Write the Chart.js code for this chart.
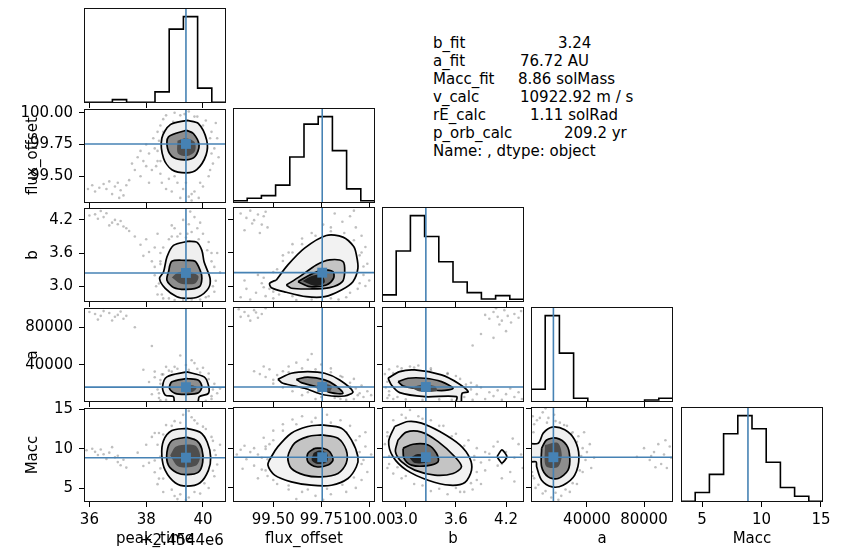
<!DOCTYPE html>
<html>
<head>
<meta charset="utf-8">
<script src="https://cdn.jsdelivr.net/npm/chart.js@4.4.1/dist/chart.umd.min.js"></script>
<style>
  body { margin: 0; width: 851px; height: 549px; background: #fff; position: relative; overflow: hidden;
         font-family: "DejaVu Sans", sans-serif; }
  canvas { position: absolute; }
  .txt { position: absolute; font-size: 15px; color: #000; white-space: pre; line-height: 18px; }
  .ytitle { transform: translate(-50%, -50%) rotate(-90deg); }
  .xtitle { transform: translate(-50%, -50%); }
</style>
</head>
<body>
<script>
// parameter axes
var labels = ['peak_time', 'flux_offset', 'b', 'a', 'Macc'];
var axisMin = [35.81, 99.29, 2.715, 800, 3.23];
var axisMax = [40.81, 100.03, 4.415, 100300, 15.17];
var tickVals = [[36, 38, 40], [99.5, 99.75, 100], [3.0, 3.6, 4.2], [40000, 80000], [5, 10, 15]];
var tickText = [['36', '38', '40'], ['99.50', '99.75', '100.00'], ['3.0', '3.6', '4.2'], ['40000', '80000'], ['5', '10', '15']];
var truths = [39.40, 99.755, 3.24, 16497, 8.86];

// 1d histograms, 10 bins over each range
var histPeak = [6, 6, 33, 6, 7, 110, 730, 853, 147, 7];
var histFlux = [23, 47, 73, 177, 457, 783, 857, 520, 140, 23];
var histB = [70, 503, 853, 647, 397, 197, 93, 30, 63, 27];
var histA = [127, 860, 487, 37, 3, 3, 3, 3, 20, 37];
var histMacc = [7, 94, 274, 677, 857, 727, 394, 144, 57, 7];

// fit summary
var statNames = ['b_fit', 'a_fit', 'Macc_fit', 'v_calc', 'rE_calc', 'p_orb_calc'];
var statValues = ['3.24', '76.72 AU', '8.86 solMass', '10922.92 m / s', '1.11 solRad', '209.2 yr'];
var statFooter = 'Name: , dtype: object';

// samples outside the contours, per pair [x, y]
var dotsFluxPeak = [[35.95,99.40],[36.1,99.43],[36.2,99.38],[36.35,99.41],[36.5,99.44],[36.6,99.40],[36.8,99.36],[36.9,99.42],[37.0,99.45],[37.1,99.39],[37.2,99.35],[37.05,99.33],[37.3,99.43],[36.7,99.46],[37.4,99.47],
  [37.6,99.55],[37.8,99.50],[37.9,99.62],[38.0,99.58],[38.1,99.68],[38.2,99.55],[38.3,99.72],[38.25,99.80],[37.7,99.65],[38.4,99.62],[38.0,99.75],[37.5,99.60],
  [38.5,99.90],[38.6,99.95],[38.7,99.98],[39.0,100.0],[39.2,99.98],[39.5,100.01],[39.8,99.97],[40.1,99.94],[40.3,99.85],[40.4,99.72],[40.35,99.60],[40.2,99.50],[40.0,99.42],[39.7,99.38],[39.5,99.34],[39.3,99.40],[39.1,99.45],[38.8,99.48],[38.5,99.52],[38.4,99.70],[39.6,99.31],[39.4,99.45],[40.5,99.80],[38.6,99.85],
  [38.45,99.78],[38.5,99.62],[38.55,99.45],[38.7,99.40],[38.9,99.38],[39.2,99.33],[39.6,99.36],[39.9,99.45],[40.25,99.55],[40.3,99.68],[40.25,99.80],[40.0,99.90],[39.7,99.97],[39.35,99.99],[38.95,99.93],[38.75,99.88],[38.4,99.85],[37.8,99.70],[38.1,99.45],[39.0,99.50],[40.45,99.92],[40.55,99.65],[39.85,99.33],[38.35,99.58]];
var dotsBPeak = [[36.0,4.28],[36.2,4.30],[36.3,4.22],[36.5,4.25],[36.6,4.32],[36.8,4.15],[36.9,4.20],[37.0,4.12],[37.1,4.18],[37.2,4.08],[36.4,4.36],[37.3,4.05],[36.7,4.10],[37.4,4.00],
  [37.6,3.90],[37.8,3.75],[38.0,3.85],[38.1,3.62],[38.3,3.70],[38.2,3.45],[37.9,3.55],[38.4,3.95],[38.5,3.40],
  [39.0,4.05],[39.3,4.20],[39.5,4.12],[39.7,4.25],[39.2,3.95],[39.6,3.98],[39.9,4.15],[38.9,3.90],[39.4,3.88],[40.0,3.95],
  [38.3,3.20],[38.35,3.00],[38.4,2.85],[38.6,2.78],[39.0,2.75],[39.6,2.76],[40.1,2.80],[40.4,2.90],[40.45,3.10],[40.4,3.35],[40.3,3.60],[40.2,3.80],[40.6,3.25],[38.5,3.60],
  [38.45,3.05],[38.5,3.45],[38.6,3.70],[38.8,3.85],[39.1,3.90],[39.45,3.95],[39.85,3.85],[40.15,3.65],[40.3,3.45],[40.35,3.00],[40.2,2.82],[39.9,2.76],[39.3,2.75],[38.8,2.78],[38.55,2.85],[38.3,3.35],[38.9,4.10],[39.55,4.35],[39.8,4.05],[40.5,3.60]];
var dotsAPeak = [[36.0,96000],[36.2,94000],[36.4,92000],[36.5,97000],[36.7,95000],[36.9,91000],[37.0,93000],[37.2,89000],[36.3,88000],[37.1,96500],[36.8,87000],[37.3,92000],
  [37.6,80000],[38.2,60000],[37.9,35000],[38.1,22000],[38.3,27000],[38.4,14000],[38.5,20000],[38.2,9000],[38.45,5000],[38.6,30000],[39.0,38000],[39.4,40000],[39.8,36000],[40.2,31000],[40.4,20000],[40.5,10000],[40.3,4000],[39.6,45000],[39.2,50000],[38.9,33000],[40.0,37000],[40.6,15000],[38.7,3000],
  [38.5,24000],[38.55,30000],[38.8,34000],[39.1,36000],[39.5,35000],[39.9,32000],[40.2,25000],[40.35,14000],[40.3,7000],[38.45,10000],[38.5,2500],[39.0,3000],[40.1,2000],[38.7,38000],[39.7,42000],[38.3,33000]];
var dotsMaccPeak = [[35.9,9.8],[36.1,10.0],[36.2,9.6],[36.4,9.9],[36.5,9.3],[36.7,9.5],[36.9,8.9],[37.0,8.3],[37.1,7.9],[37.2,8.6],[37.3,7.6],[36.8,10.2],[36.3,9.2],[37.0,9.1],[36.6,8.7],
  [37.7,9.5],[38.0,10.5],[38.1,8.2],[38.2,11.5],[38.3,7.0],[37.9,7.8],[38.3,12.0],[38.4,5.5],
  [38.7,13.0],[39.0,13.5],[39.3,14.3],[39.5,14.8],[39.7,13.6],[40.0,12.8],[40.3,11.5],[40.4,9.8],[40.5,8.0],[40.4,6.5],[40.2,5.0],[39.9,4.3],[39.5,3.8],[39.2,4.2],[38.9,4.8],[38.6,6.2],[38.5,9.0],[40.6,10.5],[39.4,3.5],[38.4,10.5],
  [38.45,12.0],[38.5,7.5],[38.45,6.2],[38.6,4.5],[39.0,4.0],[39.7,4.5],[40.05,5.6],[40.35,7.2],[40.45,9.2],[40.35,11.0],[40.1,12.5],[39.8,13.2],[39.2,13.3],[38.9,12.9],[38.6,11.8],[39.6,14.0],[38.3,8.5],[39.1,3.6]];
var dotsBFlux = [[99.33,4.30],[99.36,4.22],[99.38,4.35],[99.40,4.18],[99.42,4.28],[99.44,4.10],[99.45,4.25],[99.47,4.05],[99.39,4.12],[99.35,4.00],[99.46,4.33],[99.43,3.95],
  [99.33,2.80],[99.36,2.95],[99.38,2.76],[99.41,2.88],[99.44,3.05],[99.46,2.82],[99.48,2.95],[99.35,3.10],[99.50,2.78],[99.42,3.20],[99.52,3.30],[99.55,3.45],[99.58,3.60],[99.60,3.75],[99.53,2.85],
  [99.82,4.30],[99.86,4.15],[99.90,4.25],[99.93,4.05],[99.96,3.90],[99.98,3.70],[99.95,3.55],[99.99,3.40],[99.97,3.20],[99.94,2.95],[99.88,2.80],[99.80,4.05],[99.76,4.10],[99.70,3.95],[99.65,3.85],[99.84,2.76],[100.0,3.10],[99.92,4.35],
  [99.45,3.15],[99.50,3.25],[99.55,3.55],[99.60,3.60],[99.65,3.75],[99.72,3.90],[99.80,3.98],[99.87,3.95],[99.92,3.82],[99.96,3.60],[99.97,3.35],[99.95,3.05],[99.90,2.88],[99.80,2.78],[99.70,2.76],[99.60,2.82],[99.50,2.90],[99.45,2.98],[99.62,2.75],[99.98,3.00]];
var dotsAFlux = [[99.32,98000],[99.35,95000],[99.37,91000],[99.40,97000],[99.42,89000],[99.44,93000],[99.46,99000],[99.38,86000],[99.33,90000],[99.41,94500],
  [99.40,33000],[99.43,30000],[99.46,27000],[99.48,35000],[99.50,24000],[99.52,29000],[99.45,38000],[99.55,33000],[99.58,38000],[99.62,42000],[99.68,45000],[99.75,40000],[99.80,36000],[99.70,51000],[99.85,28000],
  [99.90,21000],[99.93,15000],[99.95,10000],[99.97,6000],[99.99,12000],[99.92,4000],[100.01,8000],[99.88,3000],[99.96,18000],[99.82,5000],
  [99.60,12000],[99.55,16000],[99.65,8000],[99.72,4000],
  [99.50,20000],[99.53,25000],[99.58,32000],[99.65,36000],[99.72,35000],[99.80,32000],[99.86,27000],[99.90,17000],[99.94,8000],[99.85,4000],[99.75,6000],[99.68,11000],[99.60,17000],[99.55,22000],[99.78,28000],[99.92,25000]];
var dotsMaccFlux = [[99.33,9.8],[99.35,10.3],[99.38,9.5],[99.40,10.0],[99.42,9.2],[99.44,8.8],[99.46,9.9],[99.36,8.6],[99.31,9.2],[99.48,10.5],[99.45,11.3],[99.50,12.2],[99.55,13.0],[99.60,13.6],[99.65,14.0],[99.72,13.8],[99.78,14.2],[99.85,13.5],[99.90,12.8],[99.95,11.5],[99.98,10.2],[99.97,8.5],[99.99,7.0],[99.96,6.0],[99.93,5.0],[99.88,4.5],[99.80,4.2],[99.72,4.0],[99.65,4.5],[99.58,4.8],[99.52,5.5],[99.47,6.5],[99.44,7.3],[99.40,7.8],[99.34,7.4],[99.62,3.6],[99.76,3.5],[100.01,9.2],
  [99.47,8.6],[99.46,10.2],[99.50,11.0],[99.55,12.2],[99.62,13.0],[99.70,13.3],[99.80,13.2],[99.88,12.0],[99.93,11.0],[99.95,9.5],[99.96,8.0],[99.92,6.3],[99.86,5.4],[99.78,4.9],[99.68,4.8],[99.58,5.3],[99.50,6.0],[99.46,7.2],[99.42,6.2],[99.98,12.0]];
var dotsAB = [[3.95,92000],[4.00,88000],[4.05,95000],[4.10,90000],[4.15,86000],[4.18,97000],[4.22,91000],[4.26,84000],[4.30,93000],[4.35,89000],[4.12,82000],[4.38,96000],[4.08,99000],
  [3.90,72000],[4.05,68000],[4.20,75000],[3.80,60000],
  [2.75,30000],[2.78,22000],[2.80,35000],[2.85,27000],[2.90,38000],[2.95,33000],[3.05,38000],[3.15,39000],[3.30,36000],[3.50,31000],[3.60,28000],
  [3.78,14000],[3.85,9000],[3.90,16000],[3.95,4000],[4.00,11000],[4.05,7000],[4.10,13000],[4.15,3000],[4.20,9000],[4.25,15000],[4.30,6000],[4.35,11000],[4.39,4000],[3.80,3000],[3.72,19000],
  [2.80,8000],[2.85,4000],
  [2.76,16000],[2.80,12000],[2.90,6000],[3.0,3500],[3.2,3000],[3.4,3500],[3.55,3000],[3.70,6000],[3.78,21000],[3.65,25000],[3.50,30000],[3.30,34000],[3.10,37000],[2.95,36000],[2.85,31000],[3.60,14000],[3.85,18000],[2.78,5000]];
var dotsMaccB = [[2.75,10.5],[2.78,12.0],[2.80,9.0],[2.78,7.5],[2.85,13.5],[2.95,14.2],[3.05,14.8],[3.15,14.0],[3.30,13.5],[3.45,12.8],[3.60,11.8],[3.75,11.0],[3.85,10.0],[3.95,9.5],[4.05,10.2],[4.20,9.5],[4.30,8.8],[4.35,10.5],[4.40,7.5],[4.25,7.0],[4.10,7.8],[3.95,7.2],[3.85,6.0],[3.80,4.8],[3.90,5.5],[4.15,6.2],[4.30,5.8],[3.70,4.5],[3.50,4.2],[3.30,4.6],[3.10,5.5],[2.95,6.2],[2.85,6.8],[4.00,8.5],[3.82,9.0],[4.38,9.2],[4.28,11.2],
  [2.78,11.5],[2.80,8.0],[2.85,9.8],[2.90,12.5],[3.0,13.8],[3.2,13.7],[3.4,12.8],[3.55,11.5],[3.7,10.3],[3.82,8.5],[3.85,7.0],[3.78,5.6],[3.60,5.0],[3.40,4.9],[3.20,5.3],[3.00,6.5],[2.90,7.6],[3.9,8.2],[4.0,9.3],[4.15,8.0],[4.1,10.8],[3.65,4.5]];
var dotsMaccA = [[75000,8.9],[80000,10.0],[84000,8.5],[87000,9.5],[90000,10.5],[92000,8.0],[94000,9.2],[96000,7.5],[98000,10.2],[99000,8.8],[88000,7.6],[95000,11.0],[85000,9.0],
  [2000,14.0],[5000,13.5],[9000,14.5],[13000,13.8],[17000,14.2],[21000,13.2],[26000,12.8],[30000,12.0],[34000,11.5],[37000,10.0],[39000,8.5],[37000,7.0],[33000,5.5],[28000,4.5],[22000,4.0],[15000,3.8],[9000,4.3],[4000,5.0],[2000,6.5],[40000,9.5],[45000,8.8],[20000,3.5],[11000,15.0],[2500,12.0],[2000,9.0],
  [3000,13.0],[7000,13.8],[12000,13.2],[18000,13.4],[24000,12.9],[29000,11.8],[33000,10.8],[36000,9.0],[35000,7.2],[30000,5.6],[25000,4.8],[18000,4.4],[11000,4.6],[6000,5.4],[3000,6.2],[1500,7.0],[1500,10.0],[42000,10.5],[38000,12.0],[43000,7.5]];

// density contours, outermost level first
var ringsFluxPeak = [
  [[39.43,99.94],[38.85,99.907],[38.55,99.80],[38.61,99.643],[38.905,99.552],[39.41,99.527],[39.78,99.552],[40.11,99.669],[40.13,99.785],[39.84,99.915]],
  [[39.41,99.863],[38.785,99.811],[38.75,99.721],[38.96,99.648],[39.41,99.63],[39.72,99.656],[39.862,99.746],[39.66,99.837]]];
var coreFluxPeak = [[39.1,99.78],[39.4,99.80],[39.7,99.77],[39.72,99.70],[39.45,99.66],[39.12,99.68]];
var ringsBPeak = [
  [[39.49,3.815],[38.96,3.738],[38.73,3.528],[38.61,3.259],[38.47,3.14],[38.67,2.961],[39.08,2.81],[39.43,2.781],[39.84,2.81],[40.19,2.961],[40.25,3.14],[40.04,3.438],[39.96,3.648],[39.78,3.797]],
  [[39.43,3.469],[38.905,3.451],[38.785,3.259],[38.73,3.11],[38.96,2.979],[39.43,2.943],[39.87,2.99],[39.96,3.14],[39.90,3.289],[39.72,3.451]]];
var coreBPeak = [[38.905,3.158],[39.13,3.253],[39.55,3.259],[39.84,3.181],[39.72,3.051],[39.2,3.051]];
var ringsAPeak = [
  [[39.43,32635],[38.73,27380],[38.575,16875],[38.67,8150],[38.96,6370],[39.02,-1300],[39.79,-1300],[39.87,6370],[40.19,9940],[40.19,18660],[40.04,27380]],
  [[39.43,25700],[38.905,22130],[38.82,15190],[39.02,9940],[39.43,8890],[39.84,10570],[39.96,16870],[39.84,23920]]];
var coreAPeak = [[39.255,15510],[39.48,18660],[39.78,16560],[39.65,11620],[39.30,11620]];
var ringsMaccPeak = [
  [[39.43,12.59],[38.905,12.30],[38.61,11.03],[38.55,9.14],[38.67,7.24],[39.02,5.68],[39.43,5.25],[39.90,5.68],[40.19,7.24],[40.27,8.92],[40.15,10.82],[39.90,12.08]],
  [[39.43,11.45],[38.905,11.03],[38.73,9.55],[38.785,7.87],[39.08,6.95],[39.43,6.70],[39.84,7.02],[39.99,8.29],[39.96,9.98],[39.78,11.03]]];
var coreMaccPeak = [[38.845,9.14],[39.055,10.28],[39.72,10.40],[39.90,9.14],[39.76,7.87],[39.13,7.75]];
var ringsBFlux = [
  [[99.516,3.11],[99.576,3.379],[99.663,3.679],[99.776,3.905],[99.863,3.876],[99.919,3.708],[99.933,3.559],[99.941,3.32],[99.915,3.079],[99.855,2.93],[99.768,2.81],[99.672,2.81],[99.568,2.889],[99.49,2.972],[99.481,3.051]],
  [[99.568,3.02],[99.637,3.169],[99.724,3.379],[99.794,3.469],[99.863,3.438],[99.872,3.259],[99.86,3.079],[99.794,2.972],[99.69,2.948],[99.594,2.961]],
  [[99.629,3.079],[99.69,3.20],[99.759,3.289],[99.811,3.259],[99.814,3.14],[99.776,3.02],[99.69,2.99]]];
var coreBFlux = [[99.653,3.09],[99.70,3.18],[99.752,3.20],[99.768,3.07],[99.72,3.0]];
var ringsAFlux = [
  [[99.524,24650],[99.594,30950],[99.68,32630],[99.768,30950],[99.846,23920],[99.915,11620],[99.872,7100],[99.768,8150],[99.663,15190],[99.55,20450]],
  [[99.62,24650],[99.68,26750],[99.768,23920],[99.82,18660],[99.863,9940],[99.80,10570],[99.733,16240],[99.646,21080]]];
var coreAFlux = [[99.716,16560],[99.752,20240],[99.804,17610],[99.794,11830],[99.742,13410]];
var ringsMaccFlux = [
  [[99.75,12.93],[99.68,12.72],[99.594,11.88],[99.524,10.19],[99.49,8.92],[99.472,7.87],[99.507,6.61],[99.594,5.76],[99.698,5.34],[99.803,5.34],[99.889,6.19],[99.933,7.66],[99.941,8.92],[99.907,11.03],[99.855,12.51]],
  [[99.75,11.67],[99.68,11.45],[99.611,10.62],[99.576,8.92],[99.594,7.45],[99.663,6.61],[99.75,6.39],[99.837,6.82],[99.88,8.09],[99.88,9.77],[99.837,11.25]],
  [[99.716,9.98],[99.68,9.35],[99.68,8.29],[99.724,7.66],[99.785,7.87],[99.811,8.50],[99.794,9.55],[99.759,9.98]]];
var coreMaccFlux = [[99.71,9.4],[99.74,9.7],[99.78,9.3],[99.78,8.3],[99.73,8.0],[99.70,8.5]];
var ringsAB = [
  [[2.787,25700],[2.927,32630],[3.107,34420],[3.427,29170],[3.626,20450],[3.746,11620],[3.674,9940],[3.659,-1300],[3.599,-1300],[3.607,6370],[3.227,6370],[2.927,10570],[2.828,18660]],
  [[2.907,22130],[3.027,25700],[3.227,25700],[3.427,22130],[3.566,15190],[3.427,12670],[3.107,15190],[2.967,17610]]];
var coreAB = [[3.071,15510],[3.167,18660],[3.347,17610],[3.371,12360],[3.167,11830]];
var ringsMaccB = [
  [[2.867,12.72],[3.027,13.35],[3.187,13.15],[3.407,12.08],[3.647,10.40],[3.767,8.72],[3.787,7.24],[3.707,5.68],[3.527,5.34],[3.267,5.97],[3.008,7.24],[2.847,8.92],[2.795,10.82]],
  [[2.907,11.03],[3.007,12.01],[3.187,12.01],[3.387,10.82],[3.587,8.92],[3.667,7.66],[3.566,6.82],[3.347,6.61],[3.107,7.24],[2.948,8.29],[2.876,9.55]],
  [[2.967,9.98],[3.087,10.49],[3.267,10.40],[3.367,9.35],[3.387,8.29],[3.247,7.78],[3.068,7.87],[2.979,8.72]]];
var coreMaccB = [[3.047,8.76],[3.143,9.26],[3.263,9.01],[3.263,8.25],[3.107,8.12]];
var islandMaccB = [[4.091,8.92],[4.151,9.77],[4.211,8.92],[4.151,8.12]];
var ringsMaccA = [
  [[-3375,10.62],[5880,10.62],[9360,11.88],[15620,12.64],[24460,12.30],[31420,11.03],[34410,8.92],[31420,6.61],[23270,5.34],[15620,5.13],[8240,5.97],[4770,7.66],[4280,8.29],[-3375,8.29]],
  [[8240,9.98],[11720,11.03],[18680,11.25],[25640,10.40],[27940,8.92],[26750,7.24],[19800,6.19],[12840,6.39],[8240,7.66]]];
var coreMaccA = [[10540,10.40],[19590,10.66],[22370,9.14],[19590,7.62],[11240,7.75]];

var hists = [histPeak, histFlux, histB, histA, histMacc];
var pairs = [
  {r: 1, c: 0, dots: dotsFluxPeak, rings: ringsFluxPeak, core: coreFluxPeak},
  {r: 2, c: 0, dots: dotsBPeak, rings: ringsBPeak, core: coreBPeak},
  {r: 3, c: 0, dots: dotsAPeak, rings: ringsAPeak, core: coreAPeak},
  {r: 4, c: 0, dots: dotsMaccPeak, rings: ringsMaccPeak, core: coreMaccPeak},
  {r: 2, c: 1, dots: dotsBFlux, rings: ringsBFlux, core: coreBFlux},
  {r: 3, c: 1, dots: dotsAFlux, rings: ringsAFlux, core: coreAFlux},
  {r: 4, c: 1, dots: dotsMaccFlux, rings: ringsMaccFlux, core: coreMaccFlux},
  {r: 3, c: 2, dots: dotsAB, rings: ringsAB, core: coreAB},
  {r: 4, c: 2, dots: dotsMaccB, rings: ringsMaccB, core: coreMaccB, island: islandMaccB},
  {r: 4, c: 3, dots: dotsMaccA, rings: ringsMaccA, core: coreMaccA}
];

// grid geometry
var colX = [84, 233, 382, 531, 681];
var rowY = [8, 108, 207, 307, 407];
var PW = 142, PH = 95;
var PADL = 70, PADR = 40, PADT = 14, PADB = 30;
var BLUE = '#4682b4';
var tickFont = {family: 'DejaVu Sans', size: 15};
var shades = {2: ['#efefef', '#8e8e8e', '#4e4e4e'], 3: ['#f2f2f2', '#c4c4c4', '#707070', '#1e1e1e']};

var frame = {
  id: 'frame',
  afterDraw: function (chart) {
    var a = chart.chartArea, ctx = chart.ctx;
    ctx.save();
    ctx.strokeStyle = '#111';
    ctx.lineWidth = 1;
    ctx.strokeRect(Math.round(a.left) + 0.5, Math.round(a.top) + 0.5, Math.round(a.right - a.left) - 1, Math.round(a.bottom - a.top) - 1);
    ctx.restore();
  }
};

function xy(arr) {
  return arr.map(function (p) { return {x: p[0], y: p[1]}; });
}

function closed(arr) {
  return xy(arr.concat([arr[0]]));
}

function makePanel(r, c, datasets, hist) {
  var w = PW + PADL + PADR, h = PH + PADT + PADB;
  var cv = document.createElement('canvas');
  cv.width = w; cv.height = h;
  cv.style.left = (colX[c] - PADL) + 'px';
  cv.style.top = (rowY[r] - PADT) + 'px';
  document.body.appendChild(cv);

  var yMin = hist ? 0 : axisMin[r];
  var yMax = hist ? 1.1 * Math.max.apply(null, hists[c]) : axisMax[r];

  new Chart(cv, {
    type: 'scatter',
    data: {datasets: datasets},
    options: {
      responsive: false,
      animation: false,
      events: [],
      layout: {padding: {left: 0, right: PADR, top: PADT, bottom: 0}},
      plugins: {legend: {display: false}, tooltip: {enabled: false}},
      scales: {
        x: {
          type: 'linear', bounds: 'data', min: axisMin[c], max: axisMax[c],
          afterBuildTicks: function (s) { s.ticks = tickVals[c].map(function (v) { return {value: v}; }); },
          afterFit: function (s) { s.height = PADB; },
          ticks: {display: r === 4, autoSkip: false, maxRotation: 0, padding: 4, color: '#000', font: tickFont,
                  callback: function (v, i) { return tickText[c][i]; }},
          grid: {drawOnChartArea: false, tickLength: 5, color: '#000', lineWidth: 1},
          border: {display: false}
        },
        y: {
          type: 'linear', bounds: 'data', min: yMin, max: yMax,
          afterBuildTicks: function (s) { s.ticks = hist ? [] : tickVals[r].map(function (v) { return {value: v}; }); },
          afterFit: function (s) { s.width = PADL; },
          ticks: {display: !hist && c === 0, autoSkip: false, padding: 6, color: '#000', font: tickFont,
                  callback: function (v, i) { return tickText[r][i]; }},
          grid: {display: !hist, drawOnChartArea: false, tickLength: 5, color: '#000', lineWidth: 1},
          border: {display: false}
        }
      }
    },
    plugins: [frame]
  });
}

// diagonal: histograms
hists.forEach(function (counts, k) {
  var step = (axisMax[k] - axisMin[k]) / counts.length;
  var outline = [{x: axisMin[k], y: 0}];
  counts.forEach(function (n, i) {
    outline.push({x: axisMin[k] + i * step, y: n});
    outline.push({x: axisMin[k] + (i + 1) * step, y: n});
  });
  outline.push({x: axisMax[k], y: 0});
  var top = 1.1 * Math.max.apply(null, counts);
  makePanel(k, k, [
    {data: [{x: truths[k], y: 0}, {x: truths[k], y: top}], showLine: true, borderColor: BLUE, borderWidth: 1.6, pointRadius: 0, order: 1},
    {data: outline, showLine: true, borderColor: '#000', borderWidth: 1.6, pointRadius: 0, tension: 0, order: 2}
  ], true);
});

// lower triangle: 2d densities
pairs.forEach(function (p) {
  var sets = [];
  var tone = shades[p.rings.length];
  sets.push({data: [{x: truths[p.c], y: truths[p.r]}], pointStyle: 'rect', pointRadius: 7, backgroundColor: BLUE, borderWidth: 0, order: 1});
  sets.push({data: [{x: truths[p.c], y: axisMin[p.r]}, {x: truths[p.c], y: axisMax[p.r]}], showLine: true, borderColor: BLUE, borderWidth: 1.6, pointRadius: 0, order: 2});
  sets.push({data: [{x: axisMin[p.c], y: truths[p.r]}, {x: axisMax[p.c], y: truths[p.r]}], showLine: true, borderColor: BLUE, borderWidth: 1.6, pointRadius: 0, order: 2});
  sets.push({data: closed(p.core), showLine: true, fill: 'shape', backgroundColor: tone[tone.length - 1], borderWidth: 0, pointRadius: 0, tension: 0.3, order: 4});
  p.rings.forEach(function (ring, depth) {
    sets.push({data: closed(ring), showLine: true, fill: 'shape', backgroundColor: tone[depth], borderColor: '#000', borderWidth: 1.7,
               pointRadius: 0, tension: 0.3, order: 10 - depth});
  });
  if (p.island) {
    sets.push({data: closed(p.island), showLine: true, borderColor: '#000', borderWidth: 1.7, pointRadius: 0, tension: 0.2, order: 5});
  }
  sets.push({data: xy(p.dots), pointRadius: 1.3, backgroundColor: 'rgba(0,0,0,0.25)', borderWidth: 0, order: 20});
  makePanel(p.r, p.c, sets, false);
});

// axis titles and summary text
function addText(str, left, top, cls) {
  var d = document.createElement('div');
  d.className = 'txt ' + (cls || '');
  d.textContent = str;
  d.style.left = left + 'px';
  d.style.top = top + 'px';
  document.body.appendChild(d);
  return d;
}

for (var k = 1; k < 5; k++) addText(labels[k], 32, rowY[k] + PH / 2, 'ytitle');
for (var k2 = 0; k2 < 5; k2++) addText(labels[k2], colX[k2] + PW / 2, 538, 'xtitle');
addText('+2.4544e6', colX[0] + PW - 86, 531);

var statValueX = [558, 520, 518, 520, 530, 564];
statNames.forEach(function (n, i) {
  addText(n, 433, 34 + i * 18);
  addText(statValues[i], statValueX[i], 34 + i * 18);
});
addText(statFooter, 433, 34 + 6 * 18);
</script>
</body>
</html>
